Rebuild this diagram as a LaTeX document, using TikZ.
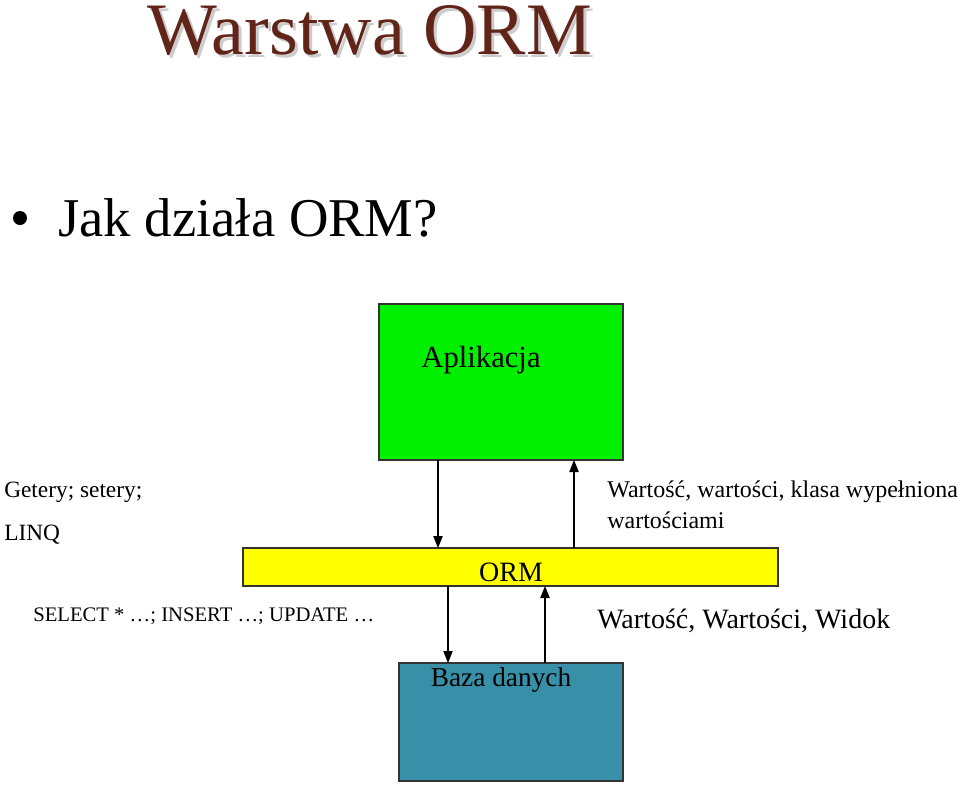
\documentclass[tikz,border=0pt]{standalone}
\usepackage{fontspec}
\setmainfont{Liberation Serif}
\definecolor{titlec}{RGB}{96,36,24}
\definecolor{appg}{RGB}{0,240,0}
\definecolor{ormy}{RGB}{255,255,0}
\definecolor{dbc}{RGB}{56,144,168}
\begin{document}
\begin{tikzpicture}[x=0.75pt,y=-0.75pt,
  box/.style={draw=black!80,line width=0.8pt},
  arr/.style={-{Triangle[length=9pt,width=7pt]},line width=0.8pt},
  lbl/.style={anchor=west,inner sep=0pt}]
\usetikzlibrary{arrows.meta}
\useasboundingbox (0,0) rectangle (960,786);
\node[text=gray!40] at (373,34) {\fontsize{55.5}{60}\selectfont Warstwa ORM};
\node (title) [text=titlec] at (370,31) {\fontsize{55.5}{60}\selectfont Warstwa ORM};
\fill (20,218) circle (7);
\node (jak) [lbl] at (58,218) {\fontsize{41}{46}\selectfont Jak działa ORM?};
\draw[box,fill=appg] (379,304) rectangle (623,460);
\node (app) at (481,360) {\fontsize{23}{27}\selectfont Aplikacja};
\draw[box,fill=ormy] (243,548) rectangle (778,586);
\node (orm) at (511,572) {\fontsize{21}{25}\selectfont ORM};
\draw[box,fill=dbc] (399,663) rectangle (623,781);
\node (db) at (501,680) {\fontsize{20.5}{24}\selectfont Baza danych};
\coordinate (a1) at (438,460); \coordinate (a2) at (438,548);
\coordinate (b1) at (574,548); \coordinate (b2) at (574,460);
\coordinate (c1) at (448,586); \coordinate (c2) at (448,663);
\coordinate (d1) at (545,663); \coordinate (d2) at (545,586);
\draw[arr] (a1) -- (a2);
\draw[arr] (b1) -- (b2);
\draw[arr] (c1) -- (c2);
\draw[arr] (d1) -- (d2);
\node (g) [lbl] at (4,492) {\fontsize{17.5}{20}\selectfont Getery; setery;};
\node (l) [lbl] at (4,535) {\fontsize{17.5}{20}\selectfont LINQ};
\node (s) [lbl] at (33,616) {\fontsize{15.5}{18}\selectfont SELECT * …; INSERT …; UPDATE …};
\node (w1) [lbl] at (607,492) {\fontsize{18}{21}\selectfont Wartość, wartości, klasa wypełniona};
\node (w2) [lbl] at (607,520) {\fontsize{18}{21}\selectfont wartościami};
\node (w3) [lbl] at (597,621) {\fontsize{21}{25}\selectfont Wartość, Wartości, Widok};
\end{tikzpicture}
\end{document}
